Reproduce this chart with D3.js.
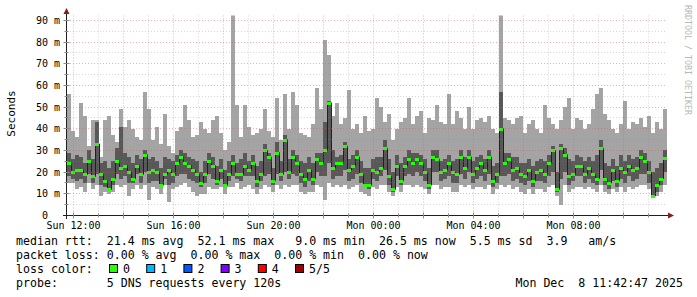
<!DOCTYPE html>
<html>
<head>
<meta charset="utf-8">
<script src="https://cdn.jsdelivr.net/npm/d3@7"></script>
<style>
  body { margin: 0; background: #fff; }
  svg text { font-family: "DejaVu Sans Mono", monospace; white-space: pre; }
</style>
</head>
<body>
<div id="chart"></div>
<script>
// 5 pings per sample (sorted), in ms; 150 samples over the last 24 hours
const rttMin = [
  15,15,12,13,11,15,12,14,9,11,10,11,14,13,14,9,12,14,12,14,7,13,12,10,14,
  6,12,13,14,15,13,11,9,10,10,13,12,12,13,10,13,13,15,12,13,14,12,10,12,14,
  13,11,14,12,14,13,14,14,11,10,11,11,14,13,7,15,13,14,13,14,12,13,14,11,10,
  9,13,12,14,14,11,9,13,11,14,14,13,14,13,12,10,14,14,12,13,13,11,11,14,13,
  14,12,13,13,12,14,10,12,14,13,14,12,13,11,10,12,10,12,12,11,13,14,9,5,14,
  11,12,13,13,12,13,12,11,14,11,10,12,11,13,11,13,12,13,14,14,12,9,9,11,14];
const rttQ1 = [
  18,17,16,17,15,19,15,19,14,13,12,14,19,17,18,15,15,19,15,20,15,16,16,13,17,
  14,15,18,19,19,17,16,15,13,15,19,17,14,17,13,16,18,17,16,18,18,18,13,16,18,
  19,14,19,16,20,17,19,18,15,13,16,14,20,18,18,24,17,18,18,21,16,17,19,15,13,
  12,17,16,18,21,14,11,18,14,18,19,18,20,18,16,12,20,20,16,17,18,15,15,19,17,
  20,15,17,18,16,19,13,15,18,18,19,16,17,15,14,16,13,16,16,15,18,20,11,17,20,
  14,16,18,18,15,17,15,14,21,14,12,16,13,17,15,18,16,17,19,19,15,9,11,14,20];
const rttMedian = [
  24,20,21,21,19,25,18,33,19,16,12,17,25,22,23,20,17,23,19,28,20,21,20,14,19,
  21,19,24,27,24,23,21,19,15,19,25,23,16,21,14,19,24,19,19,23,21,24,16,19,30,
  27,16,29,19,35,20,27,24,19,17,21,17,26,24,30,52,22,24,24,32,21,23,27,19,14,
  14,21,20,22,31,18,12,23,16,23,26,24,26,24,20,14,27,26,20,21,24,20,19,27,22,
  27,19,22,24,21,27,16,19,40,24,26,21,22,19,18,21,16,20,21,19,24,30,12,31,28,
  18,19,23,23,19,22,19,17,31,17,15,21,16,22,20,23,21,22,27,25,20,9,14,17,26.5];
const rttQ3 = [
  29,26,28,27,24,30,26,43,24,25,22,25,31,41,29,27,24,28,26,30,26,27,25,22,27,
  26,25,28,30,29,27,26,25,20,25,29,27,23,26,21,25,28,24,26,29,25,28,23,25,33,
  29,22,34,25,37,26,30,28,25,24,27,24,29,29,43,53,30,27,28,34,26,28,30,25,22,
  22,26,27,27,35,26,20,28,24,27,30,29,29,28,26,22,30,30,25,26,28,25,26,30,27,
  30,25,27,28,26,30,23,24,57,29,29,27,27,24,24,26,23,25,26,25,28,32,20,33,31,
  26,25,28,27,25,27,25,28,35,24,23,26,23,28,25,28,26,27,30,29,25,20,22,24,30];
const rttMax = [
  56,39,36,52,46,32,44,44,27,44,46,37,34,49,41,44,40,36,35,57,49,35,41,33,47,
  32,29,39,41,51,44,36,37,43,40,38,44,46,38,30,34,96,51,36,51,41,37,38,40,49,
  39,36,54,35,56,40,57,51,38,37,36,42,59,49,81,74,46,52,42,45,58,40,42,38,46,
  39,40,54,50,43,47,35,40,43,45,54,42,46,48,38,45,44,51,43,42,56,42,48,45,40,
  50,40,44,45,43,46,40,38,93,45,44,42,45,46,38,42,44,40,38,51,45,42,40,44,50,
  54,40,45,44,40,42,49,56,59,47,44,40,38,42,53,40,43,42,45,41,46,38,43,40,49];

const yTicks = [0, 10, 20, 30, 40, 50, 60, 70, 80, 90];
const yTickLabels = ["0  ", "10 m", "20 m", "30 m", "40 m", "50 m", "60 m", "70 m", "80 m", "90 m"];
const xTickTimes = [
  new Date(2025, 11, 7, 12), new Date(2025, 11, 7, 16), new Date(2025, 11, 7, 20),
  new Date(2025, 11, 8, 0), new Date(2025, 11, 8, 4), new Date(2025, 11, 8, 8)];
const xTickLabels = ["Sun 12:00", "Sun 16:00", "Sun 20:00", "Mon 00:00", "Mon 04:00", "Mon 08:00"];

const legendLines = [
  "median rtt:  21.4 ms avg  52.1 ms max   9.0 ms min  26.5 ms now  5.5 ms sd  3.9   am/s",
  "packet loss: 0.00 % avg  0.00 % max  0.00 % min  0.00 % now",
  "loss color:",
  "probe:       5 DNS requests every 120s"];
const lossLabels = ["0", "1", "2", "3", "4", "5/5"];
const lossColors = ["#26ff00", "#00b8ff", "#0059ff", "#7e00ff", "#ff0000", "#a00000"];
const stampText = "Mon Dec  8 11:42:47 2025";

// canvas
const svg = d3.select("#chart").append("svg")
    .attr("width", 697)
    .attr("height", 297)
    .style("display", "block");

const plotLeft = 67, plotRight = 667, plotTop = 15.5, plotBottom = 215.5;
const start = new Date(2025, 11, 7, 11, 45);
const end = new Date(2025, 11, 8, 11, 45);
const stepMs = (end - start) / rttMedian.length;
const times = rttMedian.map((d, i) => new Date(+start + i * stepMs));

const x = d3.scaleTime().domain([start, end]).range([plotLeft, plotRight]);
const y = d3.scaleLinear().domain([0, 92.3]).range([plotBottom, plotTop]);

svg.append("clipPath").attr("id", "clip")
  .append("rect")
    .attr("x", plotLeft).attr("y", plotTop)
    .attr("width", plotRight - plotLeft).attr("height", plotBottom - plotTop);

const plot = svg.append("g").attr("clip-path", "url(#clip)");
const w = (d) => x(new Date(+d + stepMs)) - x(d);

// smoke: outer pings then inner pings
plot.append("g").selectAll("rect")
    .data(times)
    .join("rect")
        .attr("x", d => x(d))
        .attr("width", w)
        .attr("y", (d, i) => y(rttMax[i]))
        .attr("height", (d, i) => y(rttMin[i]) - y(rttMax[i]))
        .attr("fill", "#a4a4a4")
        .attr("shape-rendering", "crispEdges");

plot.append("g").selectAll("rect")
    .data(times)
    .join("rect")
        .attr("x", d => x(d))
        .attr("width", w)
        .attr("y", (d, i) => y(rttQ3[i]))
        .attr("height", (d, i) => y(rttQ1[i]) - y(rttQ3[i]))
        .attr("fill", "#585858")
        .attr("shape-rendering", "crispEdges");

// median step line
const medPts = times.map((t, i) => [t, rttMedian[i]]);
medPts.push([end, rttMedian[rttMedian.length - 1]]);
plot.append("path")
    .attr("d", d3.line().x(d => x(d[0])).y(d => y(d[1])).curve(d3.curveStepAfter)(medPts))
    .attr("transform", "translate(0.5,0)")
    .attr("fill", "none")
    .attr("stroke", "#202020")
    .attr("stroke-width", 1);

// median, coloured by loss (all 0 here)
plot.append("g").selectAll("rect")
    .data(times)
    .join("rect")
        .attr("x", d => x(d))
        .attr("width", w)
        .attr("y", (d, i) => Math.round(y(rttMedian[i])) - 1.5)
        .attr("height", 3)
        .attr("fill", lossColors[0])
        .attr("shape-rendering", "crispEdges");

// grid
const grid = svg.append("g").attr("stroke-dasharray", "1,2").attr("stroke-width", 1);
const snap = v => Math.floor(v) + 0.5;
const hours = d3.timeHour.range(d3.timeHour.ceil(start), end);
grid.selectAll("line.v")
    .data(hours)
    .join("line")
        .attr("x1", d => snap(x(d))).attr("x2", d => snap(x(d)))
        .attr("y1", plotTop).attr("y2", plotBottom)
        .attr("stroke", d => d.getHours() % 2 === 0 ? "rgba(222,80,80,0.45)" : "rgba(140,140,140,0.35)");
const fives = d3.range(5, 92, 5);
grid.selectAll("line.h")
    .data(fives)
    .join("line")
        .attr("x1", plotLeft).attr("x2", plotRight)
        .attr("y1", d => snap(y(d))).attr("y2", d => snap(y(d)))
        .attr("stroke", d => d % 10 === 0 ? "rgba(222,80,80,0.45)" : "rgba(140,140,140,0.35)");

// axes
const axis = svg.append("g").attr("stroke", "#1f1f1f").attr("stroke-width", 1);
axis.append("line").attr("x1", 63).attr("x2", 669).attr("y1", 215.5).attr("y2", 215.5);
axis.append("line").attr("x1", 66.5).attr("x2", 66.5).attr("y1", 219).attr("y2", 13);
axis.selectAll("line.yt")
    .data(d3.range(5, 92, 5))
    .join("line")
        .attr("x1", d => d % 10 === 0 ? 63.5 : 64.5)
        .attr("x2", d => d % 10 === 0 ? 69.5 : 68.5)
        .attr("y1", d => snap(y(d))).attr("y2", d => snap(y(d)))
        .attr("stroke", "#8a8a8a");
axis.selectAll("line.xt")
    .data(hours)
    .join("line")
        .attr("x1", d => snap(x(d))).attr("x2", d => snap(x(d)))
        .attr("y1", d => d.getHours() % 2 === 0 ? 212.5 : 213.5)
        .attr("y2", d => d.getHours() % 2 === 0 ? 218.5 : 217.5)
        .attr("stroke", "#8a8a8a");

svg.append("path").attr("d", "M63.5,14L69.5,14L66.5,8Z").attr("fill", "#7f1f1f");
svg.append("path").attr("d", "M668,212.5L668,218.5L674,215.5Z").attr("fill", "#7f1f1f");

// tick labels
svg.append("g").selectAll("text")
    .data(yTicks)
    .join("text")
        .attr("x", 60)
        .attr("y", d => y(d) + 3.5)
        .attr("text-anchor", "end")
        .attr("font-size", "10px")
        .attr("xml:space", "preserve")
        .text((d, i) => yTickLabels[i]);

svg.append("g").selectAll("text")
    .data(xTickTimes)
    .join("text")
        .attr("x", d => snap(x(d)))
        .attr("y", 228.5)
        .attr("text-anchor", "middle")
        .attr("font-size", "10px")
        .text((d, i) => xTickLabels[i]);

svg.append("text")
    .attr("transform", "translate(15,113.5) rotate(-90)")
    .attr("text-anchor", "middle")
    .attr("font-size", "11px")
    .text("Seconds");

svg.append("text")
    .attr("transform", "translate(685,5) rotate(90)")
    .attr("font-size", "8.3px")
    .attr("fill", "#b8b8b8")
    .text("RRDTOOL / TOBI OETIKER");

// legend
svg.append("g").selectAll("text")
    .data(legendLines)
    .join("text")
        .attr("x", 16)
        .attr("y", (d, i) => 245 + i * 14)
        .attr("font-size", "11.6px")
        .attr("xml:space", "preserve")
        .text(d => d);

const keys = svg.append("g").selectAll("g")
    .data(lossLabels)
    .join("g")
        .attr("transform", (d, i) => `translate(${109 + i * 37.2},0)`);
keys.append("rect")
    .attr("x", 0.5).attr("y", 264.5)
    .attr("width", 8).attr("height", 8)
    .attr("fill", (d, i) => lossColors[i])
    .attr("stroke", "#000");
keys.append("text")
    .attr("x", 14)
    .attr("y", 273)
    .attr("font-size", "11.6px")
    .text(d => d);

svg.append("text")
    .attr("x", 683)
    .attr("y", 287)
    .attr("text-anchor", "end")
    .attr("font-size", "11.6px")
    .attr("xml:space", "preserve")
    .text(stampText);
</script>
</body>
</html>
